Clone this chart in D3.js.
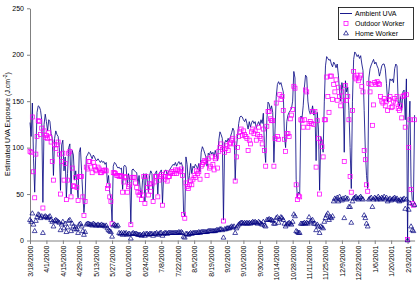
<!DOCTYPE html>
<html><head><meta charset="utf-8">
<script src="https://cdn.jsdelivr.net/npm/d3@7"></script>
<style>
html,body{margin:0;padding:0;background:#fff;}
svg{display:block;font-family:"Liberation Sans",Arial,sans-serif;}
</style></head>
<body><svg id="c" width="417" height="286"></svg>
<script>
const startDate = "3/18/2000";
const endDate = "2/9/2001";
const seriesNames = ["Ambient UVA", "Outdoor Worker", "Home Worker"];
const yTicks = [0, 50, 100, 150, 200, 250];
const xTickLabels = ["3/18/2000","4/1/2000","4/15/2000","4/29/2000","5/13/2000","5/27/2000","6/10/2000","6/24/2000","7/8/2000","7/22/2000","8/5/2000","8/19/2000","9/2/2000","9/16/2000","9/30/2000","10/14/2000","10/28/2000","11/11/2000","11/25/2000","12/9/2000","12/23/2000","1/6/2001","1/20/2001","2/3/2001"];
const yTitle = "Estimated UVA Exposure (J.cm";

const ambient = [
127,112,148,88,52,98,138,145,144,140,
130,41,125,136,128,118,130,128,115,110,
70,110,118,114,112,100,54,103,108,75,
90,46,72,100,104,50,97,92,65,75,
60,46,95,100,75,50,30,45,90,92,
95,94,91,88,92,90,87,86,88,86,
84,86,84,85,82,84,62,70,52,45,
20,80,84,83,80,78,79,77,78,55,
80,81,79,60,72,66,18,76,77,75,
74,73,60,70,55,46,65,72,42,72,
65,52,70,75,72,44,70,73,75,50,
72,74,76,40,72,75,76,70,74,76,
78,80,82,81,84,80,83,85,82,84,
80,30,26,90,82,62,70,83,72,80,
78,82,80,77,83,74,95,101,98,94,
90,80,94,92,96,93,95,90,97,92,
86,108,117,114,110,22,105,108,106,110,
107,112,116,121,118,65,100,112,126,133,
134,133,130,128,131,126,120,128,122,127,
129,126,128,121,125,128,124,130,126,137,
100,84,130,149,147,140,145,138,84,120,
155,168,171,168,170,165,160,112,100,128,
135,138,140,142,150,182,175,66,47,52,
50,134,132,145,165,178,176,150,140,136,
138,145,135,140,86,138,120,54,112,106,
95,150,188,198,196,194,195,190,187,192,
190,186,190,178,160,150,170,162,95,172,
160,165,140,100,56,150,195,203,201,198,
200,196,199,190,183,140,96,70,56,175,
185,189,192,195,190,192,188,185,177,182,
188,190,190,185,169,149,160,174,172,174,
170,185,190,188,150,145,155,140,160,162,
130,174,0,119,150,60,44,42,135];

const outdoor = [
96,95,133,74,46,93,112,129,128,114,
121,35,118,111,113,110,116,111,106,85,
65,103,99,103,106,93,50,85,94,65,
83,44,65,94,96,47,78,59,58,68,
57,43,69,69,69,47,27,42,79,77,
85,85,79,73,84,80,76,75,79,77,
73,73,75,75,76,75,56,59,47,42,
18,73,73,72,70,70,69,70,69,52,
63,69,68,52,58,60,17,68,68,68,
62,57,52,49,52,44,49,69,40,69,
57,49,61,53,61,42,63,69,69,47,
65,69,71,38,69,66,73,64,69,69,
72,74,74,72,76,72,76,75,74,77,
70,28,24,62,58,56,60,64,60,66,
70,68,75,72,74,66,80,82,84,86,
85,70,88,78,80,90,82,76,88,90,
78,96,100,104,98,21,95,99,102,97,
104,105,108,110,104,64,90,100,112,117,
120,113,118,114,112,110,97,108,104,117,
120,115,118,108,114,122,112,110,104,120,
97,80,123,139,139,131,129,129,80,110,
148,112,109,157,152,155,140,109,96,115,
115,112,131,135,141,166,164,60,44,48,
47,130,129,122,130,162,160,122,126,128,
126,139,125,139,79,129,110,50,106,101,
90,130,130,176,155,138,177,177,152,168,
160,173,151,165,155,145,160,151,85,167,
151,155,130,69,52,140,182,176,174,178,
172,175,178,166,160,97,87,60,53,169,
160,168,124,146,170,168,171,169,168,155,
150,148,153,145,150,140,152,155,143,144,
150,153,148,155,142,140,145,132,155,156,
122,157,1,100,130,55,40,38,130];

const home = [
22,20,29,17,10,21,25,28,27,24,
26,8,25,26,25,24,25,26,22,20,
15,21,22,21,20,19,11,17,20,13,
18,9,14,21,22,10,18,15,12,14,
12,8,17,18,15,10,6,9,17,18,
18,17,17,16,18,17,16,16,17,16,
16,17,16,16,15,16,13,11,10,9,
4,16,17,16,15,16,8,7,8,6,
8,7,8,6,7,7,2,7,8,7,
7,7,6,6,6,5,6,7,5,7,
7,6,7,7,7,5,7,7,8,6,
7,8,8,5,7,8,8,7,8,8,
8,8,8,8,8,8,8,9,8,9,
8,4,3,7,7,6,7,8,7,8,
8,8,8,8,9,8,9,9,9,9,
9,9,10,10,10,10,10,10,10,11,
11,11,12,12,11,3,12,12,13,13,
13,14,15,14,15,8,13,15,17,18,
19,19,18,19,18,19,18,19,18,19,
20,19,20,19,18,20,19,18,17,20,
16,15,22,22,23,22,22,21,18,18,
24,25,19,23,25,24,22,18,15,17,
18,19,18,17,20,28,26,10,9,8,
8,18,18,18,19,18,19,18,25,20,
21,22,18,18,11,17,15,8,15,14,
13,20,24,27,29,22,25,24,26,42,
45,44,46,42,47,44,43,45,24,46,
44,45,36,36,19,42,45,46,47,45,
44,46,47,45,44,27,24,18,15,44,
45,46,36,44,46,45,44,47,45,44,
46,45,47,44,46,42,44,45,43,44,
45,46,44,45,43,42,44,43,44,45,
34,44,0,33,40,15,11,10,38];

const parse = d3.utcParse("%m/%d/%Y");
const t0 = parse(startDate), t1 = parse(endDate);
const dates = d3.utcDay.range(t0, d3.utcDay.offset(t1, 1));
const tickDates = xTickLabels.map(parse);

const svg = d3.select("#c");
const x = d3.scaleUtc().domain([t0, t1]).range([30, 414.6]);
const y = d3.scaleLinear().domain([0, 250]).range([240.5, 8.3]);

const navy = "#000080", magenta = "#FF00FF", axisCol = "#808080";

// Y axis
const ya = svg.append("g").attr("transform", "translate(30,0)")
  .call(d3.axisLeft(y).tickValues(yTicks).tickSize(3).tickPadding(3).tickSizeOuter(0));
ya.select(".domain").attr("stroke", axisCol);
ya.selectAll(".tick line").attr("stroke", axisCol);
ya.selectAll("text").attr("font-size", 7).attr("fill", "#000")
  .attr("font-family", "Liberation Sans, Arial, sans-serif");

// X axis
const xa = svg.append("g").attr("transform", "translate(0,240.5)")
  .call(d3.axisBottom(x).tickValues(tickDates).tickSize(3.5).tickSizeOuter(0)
    .tickFormat((d, i) => xTickLabels[i]));
xa.select(".domain").attr("stroke", axisCol);
xa.selectAll(".tick line").attr("stroke", axisCol);
xa.selectAll("text").attr("font-size", 7).attr("fill", "#000")
  .attr("font-family", "Liberation Sans, Arial, sans-serif")
  .attr("text-anchor", "end")
  .attr("transform", "rotate(-90)")
  .attr("x", -5).attr("y", 0).attr("dy", "0.35em");

// Y title
const yt = svg.append("text").attr("transform", "translate(10,124) rotate(-90)")
  .attr("text-anchor", "middle").attr("font-size", 7).attr("fill", "#000");
yt.append("tspan").text(yTitle);
yt.append("tspan").attr("font-size", 5).attr("dy", -3).text("-2");
yt.append("tspan").attr("dy", 3).text(")");

// Ambient line
const line = d3.line().x((d, i) => x(dates[i])).y(d => y(d));
svg.append("path").datum(ambient).attr("d", line)
  .attr("fill", "none").attr("stroke", navy).attr("stroke-width", 0.8)
  .attr("stroke-linejoin", "round");

// Outdoor squares
svg.append("g").selectAll("rect").data(outdoor).join("rect")
  .attr("x", (d, i) => x(dates[i]) - 2).attr("y", d => y(d) - 2)
  .attr("width", 4).attr("height", 4)
  .attr("fill", "none").attr("stroke", magenta).attr("stroke-width", 0.75);

// Home triangles
const tri = d3.symbol().type(d3.symbolTriangle).size(10);
svg.append("g").selectAll("path").data(home).join("path")
  .attr("d", tri)
  .attr("transform", (d, i) => `translate(${x(dates[i])},${y(d)})`)
  .attr("fill", "none").attr("stroke", navy).attr("stroke-width", 0.7);

// Legend
const lg = svg.append("g");
lg.append("rect").attr("x", 338.5).attr("y", 7.5).attr("width", 75).attr("height", 32)
  .attr("fill", "#fff").attr("stroke", "#000").attr("stroke-width", 0.8);
const rows = [13.5, 23.5, 33.5];
lg.append("line").attr("x1", 340).attr("x2", 352).attr("y1", rows[0]).attr("y2", rows[0])
  .attr("stroke", navy).attr("stroke-width", 0.9);
lg.append("rect").attr("x", 346 - 2).attr("y", rows[1] - 2).attr("width", 4).attr("height", 4)
  .attr("fill", "none").attr("stroke", magenta).attr("stroke-width", 0.75);
lg.append("path").attr("d", tri).attr("transform", `translate(346,${rows[2]})`)
  .attr("fill", "none").attr("stroke", navy).attr("stroke-width", 0.7);
seriesNames.forEach((n, i) => {
  lg.append("text").attr("x", 355).attr("y", rows[i]).attr("dy", "0.35em")
    .attr("font-size", 7).attr("fill", "#000").text(n);
});
</script></body></html>
